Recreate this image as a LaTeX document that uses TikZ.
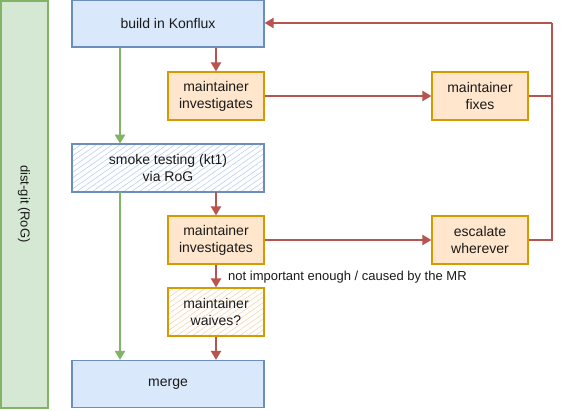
\documentclass[tikz,border=0pt]{standalone}
\usepackage{fontspec}
\setmainfont{Liberation Sans}
\usetikzlibrary{arrows.meta,patterns.meta}
\definecolor{bluefill}{HTML}{DAE8FC}
\definecolor{blueline}{HTML}{6C8EBF}
\definecolor{orfill}{HTML}{FFE6CC}
\definecolor{orline}{HTML}{D79B00}
\definecolor{grfill}{HTML}{D5E8D4}
\definecolor{grline}{HTML}{82B366}
\definecolor{redline}{HTML}{B85450}
\definecolor{txt}{HTML}{1A1A1A}
\definecolor{bluehatch}{HTML}{B9D0EE}
\definecolor{orhatch}{HTML}{FBD3A8}
\begin{document}
\begin{tikzpicture}[x=1pt,y=-1pt,
  every node/.style={font=\fontsize{14}{17}\selectfont, text=txt, align=center, inner sep=0pt},
  bluebox/.style={draw=blueline, fill=bluefill, line width=1.2pt, minimum width=192pt, minimum height=47pt},
  orbox/.style={draw=orline, fill=orfill, line width=1.2pt, minimum width=96pt, minimum height=48pt},
  bluehat/.style={draw=blueline, line width=1.2pt, minimum width=192pt, minimum height=48pt, pattern={Lines[angle=35,distance=4.5pt,line width=0.6pt]}, pattern color=bluehatch},
  orhat/.style={draw=orline, line width=1.2pt, minimum width=96pt, minimum height=48pt, pattern={Lines[angle=35,distance=4.5pt,line width=0.6pt]}, pattern color=orhatch},
  redarr/.style={draw=redline, line width=2.4pt, -{Triangle[width=10pt,length=9pt]}},
  redseg/.style={draw=redline, line width=2.4pt},
  grarr/.style={draw=grline, line width=2.4pt, -{Triangle[width=10pt,length=9pt]}},
]
\useasboundingbox (0,0) rectangle (564,410);
\node[draw=grline, fill=grfill, line width=1.2pt, minimum width=47pt, minimum height=407pt] (side) at (24.5,204.5) {};
\node[rotate=-90, font=\fontsize{13}{15}\selectfont] (sidet) at (24,204) {dist-git (RoG)};
\node[bluebox] (build) at (168,23.5) {build in Konflux};
\node[orbox] (inv1) at (216,96) {maintainer\\investigates};
\node[orbox] (fix) at (480,96) {maintainer\\fixes};
\node[bluehat] (smoke) at (168,168) {smoke testing (kt1)\\via RoG};
\node[orbox] (inv2) at (216,240) {maintainer\\investigates};
\node[orbox] (esc) at (480,240) {escalate\\wherever};
\node[orhat] (waive) at (216,312) {maintainer\\waives?};
\node[bluebox] (merge) at (168,384) {merge};
\coordinate (rtop) at (552,23);
\coordinate (rmid) at (552,96);
\coordinate (rbot) at (552,240);
\coordinate (gx) at (120,0);
% red
\draw[redarr] (build.south -| inv1) -- (inv1.north);
\draw[redarr] (inv1.east) -- (fix.west);
\draw[redseg] (fix.east) -- (rmid);
\draw[redseg] (esc.east) -- (rbot) -- (rtop);
\draw[redarr] (rtop) -- (build.east |- rtop);
\draw[redarr] (smoke.south -| inv2) -- (inv2.north);
\draw[redarr] (inv2.east) -- (esc.west);
\draw[redarr] (inv2.south) -- node[right=11pt, font=\fontsize{13}{15}\selectfont, yshift=-1pt] (lab) {not important enough / caused by the MR} (waive.north);
\draw[redarr] (waive.south) -- (merge.north -| waive);
% green
\draw[grarr] (build.south -| gx) -- (smoke.north -| gx);
\draw[grarr] (smoke.south -| gx) -- (merge.north -| gx);
\end{tikzpicture}
\end{document}
